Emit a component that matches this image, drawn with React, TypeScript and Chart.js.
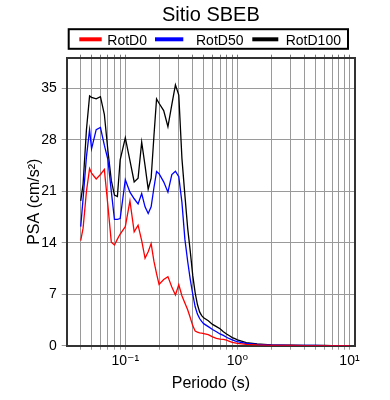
import { useEffect, useRef } from 'react';
import { Chart, registerables } from 'chart.js';

Chart.register(...registerables);

const FONT = '"Liberation Sans", Arial, Helvetica, "DejaVu Sans", sans-serif';

const TITLE = 'Sitio SBEB';
const X_TITLE = 'Periodo (s)';
const Y_TITLE = 'PSA (cm/s²)';
const SERIES_NAMES = ['RotD0', 'RotD50', 'RotD100'];
const SERIES_COLORS = ['#ff0000', '#0000ff', '#000000'];

const periods = [
  0.04, 0.042, 0.045, 0.048, 0.05, 0.055, 0.06, 0.065, 0.07, 0.075,
  0.08, 0.085, 0.09, 0.1, 0.11, 0.12, 0.13, 0.14, 0.15, 0.16,
  0.17, 0.18, 0.19, 0.2, 0.22, 0.24, 0.26, 0.28, 0.3, 0.32,
  0.34, 0.36, 0.38, 0.4, 0.42, 0.44, 0.46, 0.48, 0.5, 0.55,
  0.6, 0.65, 0.7, 0.75, 0.8, 0.85, 0.9, 0.95, 1.0, 1.2,
  1.5, 2, 2.5, 3, 4, 5, 6, 7, 8, 9,
  10,
];

const rotD0 = [
  14.3, 16.0, 21.0, 24.1, 23.5, 22.7, 23.3, 24.0, 19.0, 14.1,
  13.7, 14.5, 15.2, 16.2, 19.7, 15.5, 16.4, 14.3, 11.9, 12.8,
  13.9, 11.5, 9.8, 8.35, 9.0, 9.4, 8.0, 6.9, 8.3, 6.8,
  5.8, 4.9, 3.8, 2.7, 2.0, 1.85, 1.75, 1.7, 1.65, 1.5,
  1.2, 1.0, 0.9, 0.85, 0.75, 0.6, 0.45, 0.38, 0.32, 0.18,
  0.1, 0.05, 0.035, 0.025, 0.018, 0.014, 0.012, 0.01, 0.008, 0.007,
  0.006,
];

const rotD50 = [
  16.2, 20.0, 25.7, 29.4, 26.8, 29.4, 29.7, 27.3, 25.3, 21.0,
  17.2, 17.2, 17.3, 22.6, 20.9, 20.0, 19.3, 20.7, 18.9, 18.0,
  18.9, 21.5, 23.7, 23.4, 22.3, 20.9, 23.3, 23.75, 23.0, 19.5,
  14.5, 11.5, 9.0, 7.0, 5.3, 4.3, 3.7, 3.3, 3.0, 2.6,
  2.2, 1.9, 1.6, 1.4, 1.15, 0.95, 0.8, 0.65, 0.55, 0.3,
  0.17, 0.09, 0.06, 0.045, 0.03, 0.024, 0.02, 0.016, 0.013, 0.011,
  0.009,
];

const rotD100 = [
  19.7, 22.0, 29.4, 34.0, 33.8, 33.6, 33.9, 31.5, 26.5, 22.5,
  20.5, 20.3, 25.3, 28.3, 25.2, 22.3, 22.8, 27.7, 24.5, 21.3,
  22.8, 28.5, 33.6, 33.0, 32.0, 29.8, 32.8, 35.5, 34.1, 25.5,
  20.5, 16.0, 12.8, 9.5, 7.2, 5.6, 4.6, 4.1, 3.8, 3.4,
  2.9, 2.6, 2.3, 1.9, 1.6, 1.35, 1.1, 0.95, 0.8, 0.42,
  0.23, 0.12, 0.08, 0.06, 0.04, 0.03, 0.025, 0.02, 0.016, 0.013,
  0.011,
];

const X_MIN = 0.03;
const X_MAX = 11.2;
const Y_MIN = 0;
const Y_MAX = 39.2;

const xTickValues = [
  0.04, 0.05, 0.06, 0.07, 0.08, 0.09,
  0.1, 0.2, 0.3, 0.4, 0.5, 0.6, 0.7, 0.8, 0.9,
  1, 2, 3, 4, 5, 6, 7, 8, 9,
  10,
];
const xLabelValues = [0.1, 1, 10];
const xLabelTexts = ['10⁻¹', '10⁰', '10¹'];
const yTickValues = [0, 7, 14, 21, 28, 35];

const overlayPlugin = {
  id: 'overlay',
  afterDraw(chart: any) {
    const { ctx, chartArea } = chart;
    const cx = (chartArea.left + chartArea.right) / 2;
    ctx.save();
    ctx.fillStyle = '#000';
    ctx.textAlign = 'center';
    ctx.textBaseline = 'alphabetic';
    ctx.font = `20px ${FONT}`;
    ctx.fillText(TITLE, cx, 21);

    // legend box
    const boxL = chartArea.left + 2;
    const boxR = chartArea.right - 7;
    ctx.lineWidth = 2;
    ctx.strokeStyle = '#000';
    ctx.strokeRect(boxL, 29.2, boxR - boxL, 19.6);

    const entries = [
      { x1: 79.3, x2: 101.7, tx: 107.3 },
      { x1: 155, x2: 183.3, tx: 196 },
      { x1: 252.3, x2: 278.3, tx: 285.7 },
    ];
    ctx.font = `14px ${FONT}`;
    ctx.textAlign = 'left';
    entries.forEach((e, i) => {
      ctx.strokeStyle = SERIES_COLORS[i];
      ctx.lineWidth = 4;
      ctx.beginPath();
      ctx.moveTo(e.x1, 39.3);
      ctx.lineTo(e.x2, 39.3);
      ctx.stroke();
      ctx.fillStyle = '#000';
      ctx.fillText(SERIES_NAMES[i], e.tx, 45);
    });
    ctx.restore();
  },
};

export default function App() {
  const ref = useRef<HTMLCanvasElement>(null);

  useEffect(() => {
    const seriesValues = [rotD0, rotD50, rotD100];
    const datasets = seriesValues.map((vals, i) => ({
      label: SERIES_NAMES[i],
      data: periods.map((p, j) => ({ x: p, y: vals[j] })),
      borderColor: SERIES_COLORS[i],
      backgroundColor: SERIES_COLORS[i],
      borderWidth: 1.3,
      pointRadius: 0,
      tension: 0,
      fill: false,
    }));

    const setXTicks = (s: any) => {
      s.ticks = xTickValues.map((v) => ({ value: v }));
    };
    const setYTicks = (s: any) => {
      s.ticks = yTickValues.map((v) => ({ value: v }));
    };

    const chart = new Chart(ref.current as HTMLCanvasElement, {
      type: 'line',
      data: { datasets },
      plugins: [overlayPlugin],
      options: {
        animation: false,
        responsive: false,
        devicePixelRatio: 1,
        layout: { padding: { top: 57.7, right: 35, bottom: 0, left: 0 } },
        plugins: {
          legend: { display: false },
          title: { display: false },
          tooltip: { enabled: false },
        },
        scales: {
          x: {
            type: 'logarithmic',
            position: 'bottom',
            min: X_MIN,
            max: X_MAX,
            afterBuildTicks: setXTicks,
            afterFit: (s: any) => {
              s.height = 54.3;
            },
            ticks: {
              autoSkip: false,
              maxRotation: 0,
              minRotation: 0,
              padding: 3,
              color: '#000',
              font: { family: FONT, size: 14 },
              callback: (v: any) => {
                const k = xLabelValues.findIndex((lv) => Math.abs(lv - Number(v)) < 1e-9);
                return k >= 0 ? xLabelTexts[k] : '';
              },
            },
            grid: { color: '#9a9a9a', lineWidth: 1, tickLength: 4, tickColor: '#9a9a9a' },
            border: { display: true, color: '#333', width: 2 },
            title: {
              display: true,
              text: X_TITLE,
              color: '#000',
              font: { family: FONT, size: 16 },
              padding: { top: 0, bottom: 7 },
            },
          },
          x2: {
            type: 'logarithmic',
            position: 'top',
            min: X_MIN,
            max: X_MAX,
            afterBuildTicks: setXTicks,
            afterFit: (s: any) => {
              s.height = 0;
            },
            ticks: { display: false, autoSkip: false },
            grid: { drawOnChartArea: false, tickLength: 3, color: '#777', tickColor: '#777' },
            border: { display: true, color: '#333', width: 2 },
          },
          y: {
            type: 'linear',
            position: 'left',
            min: Y_MIN,
            max: Y_MAX,
            afterBuildTicks: setYTicks,
            afterFit: (s: any) => {
              s.width = 66.7;
            },
            ticks: {
              padding: 5,
              color: '#000',
              font: { family: FONT, size: 14 },
            },
            grid: { color: '#9a9a9a', lineWidth: 1, tickLength: 5, tickColor: '#9a9a9a' },
            border: { display: true, color: '#333', width: 2 },
            title: {
              display: true,
              text: Y_TITLE,
              color: '#000',
              font: { family: FONT, size: 16 },
              padding: { top: 25, bottom: 0 },
            },
          },
          y2: {
            type: 'linear',
            position: 'right',
            min: Y_MIN,
            max: Y_MAX,
            afterFit: (s: any) => {
              s.width = 0;
            },
            ticks: { display: false },
            grid: { drawOnChartArea: false, drawTicks: false },
            border: { display: true, color: '#333', width: 2 },
          },
        },
      } as any,
    });
    return () => chart.destroy();
  }, []);

  return (
    <div style={{ position: 'absolute', left: 0, top: 0, width: 390, height: 400, background: '#fff' }}>
      <canvas ref={ref} width={390} height={400} style={{ display: 'block', width: 390, height: 400 }} />
    </div>
  );
}
